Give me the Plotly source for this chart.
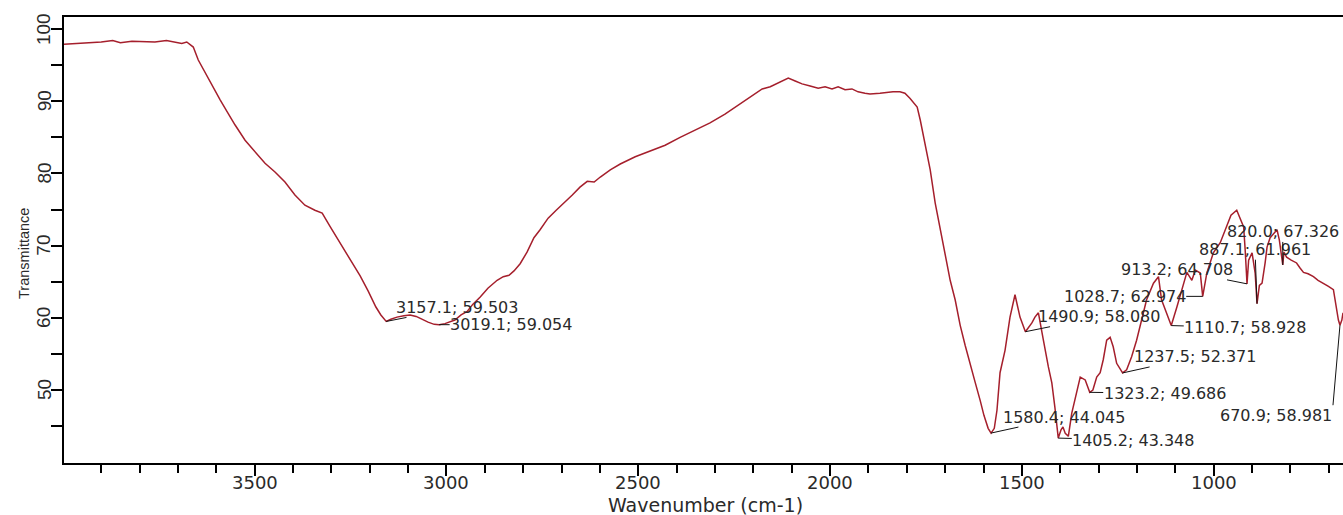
import plotly.graph_objects as go

# ---- data ----
wavenumber = [
    3997, 3960, 3930, 3900, 3870, 3850, 3820, 3790, 3760, 3730, 3710, 3690, 3677, 3660, 3647,
    3630, 3611, 3590, 3570, 3551, 3525, 3499, 3473, 3447, 3421, 3395, 3369, 3343, 3324, 3304,
    3286, 3265, 3246, 3225, 3204, 3184, 3171, 3157.1, 3145, 3129, 3111, 3095,
    3079, 3064, 3048, 3032, 3019.1, 3004, 2991, 2978, 2962, 2946, 2931, 2912, 2892, 2868, 2852,
    2837, 2824, 2808, 2790, 2772, 2756, 2735, 2714, 2693, 2672, 2652, 2633, 2615, 2599, 2573,
    2547, 2508, 2469, 2430, 2391, 2352, 2313, 2274, 2235, 2203, 2177, 2156, 2130, 2109, 2091,
    2073, 2052, 2031, 2013, 1995, 1979, 1961, 1943, 1927, 1909, 1896, 1870, 1836, 1818, 1805,
    1792, 1773, 1765, 1752, 1739, 1726, 1713, 1700, 1687, 1674, 1661, 1648, 1635, 1622, 1609,
    1599, 1588, 1580.4, 1572, 1565, 1557, 1544, 1531, 1518, 1505, 1490.9, 1474, 1466, 1457, 1453,
    1444, 1431, 1422, 1414, 1405.2, 1398, 1393, 1387, 1379, 1370, 1357, 1348, 1335, 1323.2, 1315,
    1305, 1296, 1288, 1279, 1270, 1262, 1253, 1237.5, 1227, 1214, 1201, 1188, 1175, 1157, 1144,
    1136, 1123, 1110.7, 1096, 1083, 1070, 1057, 1048, 1035, 1028.7, 1018, 1001, 983, 966, 955,
    940, 931, 922, 918, 913.2, 909, 900, 892, 887.1, 881, 874, 866, 861, 853, 844,
    835, 829, 820.0, 817, 810, 798, 784, 775, 766, 754, 740, 728, 714, 702, 688,
    683, 675, 670.9, 666, 663,
]
transmittance = [
    97.9, 98.0, 98.1, 98.2, 98.4, 98.1, 98.3, 98.3, 98.2, 98.4, 98.2, 98.0, 98.2, 97.5, 95.7,
    94.0, 92.2, 90.2, 88.4, 86.7, 84.6, 83.0, 81.4, 80.2, 78.8, 77.0, 75.6, 74.9, 74.5, 72.7,
    71.1, 69.3, 67.6, 65.8, 63.7, 61.5, 60.4, 59.503, 59.8, 60.1, 60.3, 60.4,
    60.2, 59.8, 59.4, 59.1, 59.054, 59.2, 59.4, 59.7, 60.4, 60.9, 61.9, 62.9, 64.1, 65.2, 65.7,
    65.9, 66.5, 67.5, 69.1, 71.1, 72.2, 73.8, 74.9, 75.9, 77.0, 78.1, 78.9, 78.8, 79.5, 80.5,
    81.3, 82.3, 83.1, 83.9, 85.0, 86.0, 87.0, 88.2, 89.6, 90.7, 91.7, 92.0, 92.7, 93.2, 92.8,
    92.4, 92.1, 91.8, 92.0, 91.7, 92.0, 91.6, 91.7, 91.3, 91.1, 91.0, 91.1, 91.3, 91.3, 91.1,
    90.4, 89.2, 87.4, 83.7, 80.5, 75.9, 72.4, 68.7, 65.2, 62.5, 59.0, 56.2, 53.5, 51.1, 48.6,
    46.5, 44.7, 44.045, 44.7, 47.2, 52.4, 55.5, 60.1, 63.2, 60.1, 58.080, 59.3, 60.1, 60.7, 59.4,
    56.9, 53.2, 51.0, 47.6, 43.348, 44.5, 44.9, 44.0, 43.6, 46.8, 50.0, 51.8, 51.4, 49.686, 50.0,
    51.8, 52.4, 54.2, 56.9, 57.3, 56.0, 53.7, 52.371, 52.8, 54.6, 56.9, 59.7, 62.5, 64.8, 65.7,
    62.5, 60.7, 58.928, 61.5, 63.9, 66.3, 65.2, 66.6, 66.2, 62.974, 66.2, 69.0, 70.4, 72.6, 74.2,
    74.9, 73.8, 72.6, 69.4, 64.708, 68.0, 69.0, 66.2, 61.961, 64.5, 64.8, 67.6, 69.8, 71.1, 71.7,
    72.2, 70.8, 67.326, 69.1, 68.4, 68.0, 67.6, 66.9, 66.3, 66.1, 65.7, 65.2, 64.8, 64.4, 63.9,
    62.0, 59.7, 58.981, 59.7, 60.7,
]
assert len(wavenumber) == len(transmittance)

peak_wn = [3157.1, 3019.1, 1580.4, 1490.9, 1405.2, 1323.2, 1237.5, 1110.7, 1028.7, 913.2, 887.1, 820.0, 670.9]
peak_t = [59.503, 59.054, 44.045, 58.080, 43.348, 49.686, 52.371, 58.928, 62.974, 64.708, 61.961, 67.326, 58.981]

x_major_ticks = [1000, 1500, 2000, 2500, 3000, 3500]
x_minor_ticks = [w for w in range(700, 4000, 100) if w % 500 != 0]
y_major_ticks = [50, 60, 70, 80, 90, 100]
y_minor_ticks = [45, 55, 65, 75, 85, 95]

x_title = "Wavenumber (cm-1)"
y_title = "Transmittance"

# ---- label placement: (ax, ay, xanchor, yanchor) pixel offsets of the arrow tail ----
label_place = [(71, -14, "center", "middle"), (72, 0, "center", "middle"),
               (73, -16, "center", "middle"), (74, -15, "center", "middle"),
               (75, 2, "center", "middle"), (75, 1, "center", "middle"),
               (72, -16, "center", "middle"), (74, 2, "center", "middle"),
               (-78, 0, "center", "middle"), (-70, -14, "center", "middle"),
               (-2, -54, "center", "middle"), (0, -33, "center", "middle"),
               (-7, 80, "right", "top")]

LINE_COLOR = "#A51F2C"
TEXT_COLOR = "#2a2a2a"
TICK_FONT_X = dict(family="DejaVu Sans", size=18, color=TEXT_COLOR)
TICK_FONT_Y = dict(family="Liberation Sans, Arial", size=19, color=TEXT_COLOR)

fig = go.Figure()
fig.add_trace(go.Scatter(x=wavenumber, y=transmittance, mode="lines",
                         line=dict(color=LINE_COLOR, width=1.5), hoverinfo="skip",
                         showlegend=False))

annotations = []
for w, t, (ax, ay, xa, ya) in zip(peak_wn, peak_t, label_place):
    annotations.append(dict(
        x=w, y=t, xref="x", yref="y", text=f"{w:.1f}; {t:.3f}",
        showarrow=True, arrowhead=0, arrowwidth=1, arrowcolor="#111111",
        ax=ax, ay=ay, standoff=0, startstandoff=0, xanchor=xa, yanchor=ya,
        font=dict(family="DejaVu Sans", size=16, color=TEXT_COLOR),
        bgcolor="rgba(0,0,0,0)", borderpad=0,
    ))

# x tick labels
for v in x_major_ticks:
    annotations.append(dict(text=str(v), x=v, xref="x", y=-0.0448, yref="paper",
                            xanchor="center", yanchor="middle", showarrow=False,
                            font=TICK_FONT_X))
# y tick labels, rotated to read bottom-to-top
for v in y_major_ticks:
    annotations.append(dict(text=str(v), x=-0.0156, xref="paper", y=v, yref="y",
                            xanchor="center", yanchor="middle", showarrow=False,
                            textangle=-90, font=TICK_FONT_Y))

annotations.append(dict(
    text=x_title, xref="paper", yref="paper", x=0.5016, y=-0.0942,
    xanchor="center", yanchor="middle", showarrow=False,
    font=dict(family="DejaVu Sans", size=19, color=TEXT_COLOR)))
annotations.append(dict(
    text=y_title, xref="paper", yref="paper", x=-0.0313, y=0.4709,
    xanchor="center", yanchor="middle", showarrow=False, textangle=-90,
    font=dict(family="Liberation Sans, Arial", size=14.5, color=TEXT_COLOR)))

fig.update_layout(
    width=1343, height=515, autosize=False,
    margin=dict(l=64, r=0, t=17, b=52),
    paper_bgcolor="white", plot_bgcolor="white",
    annotations=annotations,
    xaxis=dict(
        range=[3997, 663], showgrid=False, zeroline=False,
        showline=True, linecolor="black", linewidth=2, mirror=True,
        tickmode="array", tickvals=x_major_ticks, showticklabels=False,
        ticks="outside", ticklen=11, tickwidth=1.5, tickcolor="black",
        minor=dict(tickmode="array", tickvals=x_minor_ticks, ticks="outside",
                   ticklen=8, tickwidth=1.5, tickcolor="black", showgrid=False),
    ),
    yaxis=dict(
        range=[39.9, 101.66], showgrid=False, zeroline=False,
        showline=True, linecolor="black", linewidth=2, mirror=False,
        tickmode="array", tickvals=y_major_ticks, showticklabels=False,
        ticks="outside", ticklen=11, tickwidth=1.5, tickcolor="black",
        minor=dict(tickmode="array", tickvals=y_minor_ticks, ticks="outside",
                   ticklen=11, tickwidth=1.5, tickcolor="black", showgrid=False),
    ),
)

fig.write_html("out.html")
